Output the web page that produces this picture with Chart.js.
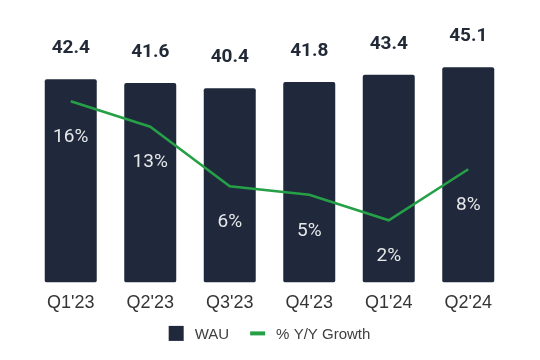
<!DOCTYPE html>
<html>
<head>
<meta charset="utf-8">
<style>
  html, body { margin: 0; padding: 0; background: #ffffff; }
  #wrap { width: 540px; height: 360px; }
</style>
<script src="https://cdn.jsdelivr.net/npm/chart.js@4.4.1/dist/chart.umd.min.js"></script>
</head>
<body>
<div id="wrap"><canvas id="c" width="540" height="360"></canvas></div>
<script>
const categories = ["Q1'23", "Q2'23", "Q3'23", "Q4'23", "Q1'24", "Q2'24"];
const wauValues = [42.4, 41.6, 40.4, 41.8, 43.4, 45.1];
const growthValues = [16, 13, 6, 5, 2, 8];
const wauLabels = ["42.4", "41.6", "40.4", "41.8", "43.4", "45.1"];
const growthLabels = ["16%", "13%", "6%", "5%", "2%", "8%"];
const seriesNames = ["WAU", "% Y/Y Growth"];

const BAR_COLOR = '#1f293b';
const LINE_COLOR = '#26a046';
const Y_MIN = -2.8, Y_MAX = 55.6;
const Y2_MIN = -5.3, Y2_MAX = 25.55;

const labelPlugin = {
  id: 'valueLabels',
  afterDatasetsDraw(chart) {
    const ctx = chart.ctx;
    ctx.save();
    ctx.textAlign = 'center';
    ctx.textBaseline = 'middle';
    const barMeta = chart.getDatasetMeta(0);
    ctx.fillStyle = '#222a38';
    ctx.font = 'bold 19px Roboto';
    barMeta.data.forEach((el, i) => {
      ctx.fillText(wauLabels[i], el.x, el.y - 31);
    });
    const lineMeta = chart.getDatasetMeta(1);
    ctx.fillStyle = '#e8e8ea';
    ctx.font = '19px Roboto';
    lineMeta.data.forEach((el, i) => {
      ctx.fillText(growthLabels[i], el.x, el.y + 36);
    });
    ctx.restore();
  }
};

const legendPlugin = {
  id: 'customLegend',
  afterDraw(chart) {
    const ctx = chart.ctx;
    const area = chart.chartArea;
    const cy = area.bottom + 51;
    const box = 15, textGap = 11, itemGap = 21;
    ctx.save();
    ctx.font = '15px "Liberation Sans"';
    ctx.textBaseline = 'middle';
    ctx.textAlign = 'left';
    const w0 = ctx.measureText(seriesNames[0]).width;
    const w1 = ctx.measureText(seriesNames[1]).width;
    const total = box + textGap + w0 + itemGap + box + textGap + w1;
    let x = (area.left + area.right) / 2 - total / 2;
    ctx.fillStyle = BAR_COLOR;
    ctx.fillRect(x, cy - box / 2, box, box);
    x += box + textGap;
    ctx.fillStyle = '#404040';
    ctx.fillText(seriesNames[0], x, cy + 1);
    x += w0 + itemGap;
    ctx.strokeStyle = LINE_COLOR;
    ctx.lineWidth = 4;
    ctx.beginPath();
    ctx.moveTo(x, cy);
    ctx.lineTo(x + box, cy);
    ctx.stroke();
    x += box + textGap;
    ctx.fillText(seriesNames[1], x, cy + 1);
    ctx.restore();
  }
};

new Chart(document.getElementById('c'), {
  data: {
    labels: categories,
    datasets: [
      {
        type: 'bar',
        label: seriesNames[0],
        data: wauValues,
        base: Y_MIN,
        backgroundColor: BAR_COLOR,
        borderRadius: 2,
        borderSkipped: false,
        barPercentage: 0.654,
        categoryPercentage: 1,
        yAxisID: 'y',
        order: 2
      },
      {
        type: 'line',
        label: seriesNames[1],
        data: growthValues,
        borderColor: LINE_COLOR,
        backgroundColor: LINE_COLOR,
        borderWidth: 2.5,
        pointRadius: 0,
        tension: 0,
        yAxisID: 'y2',
        order: 1
      }
    ]
  },
  options: {
    responsive: false,
    animation: false,
    devicePixelRatio: 1,
    layout: { padding: { left: 31, right: 32, top: 20, bottom: 36 } },
    scales: {
      x: {
        grid: { display: false, drawTicks: false },
        border: { display: false },
        ticks: { color: '#353535', font: { family: 'Liberation Sans', size: 18 }, padding: 10 }
      },
      y: { display: false, min: Y_MIN, max: Y_MAX },
      y2: { display: false, min: Y2_MIN, max: Y2_MAX }
    },
    plugins: {
      tooltip: { enabled: false },
      legend: { display: false }
    }
  },
  plugins: [labelPlugin, legendPlugin]
});
</script>
</body>
</html>
